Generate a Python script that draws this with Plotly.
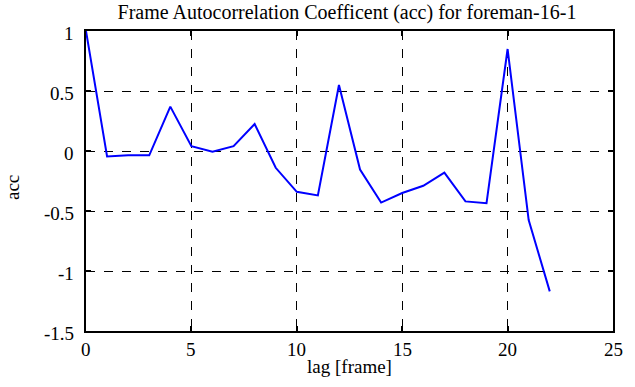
import plotly.graph_objects as go

lags = list(range(23))
acc = [1.0, -0.045, -0.035, -0.036, 0.37, 0.04, -0.005, 0.04, 0.225, -0.14,
       -0.34, -0.37, 0.55, -0.155, -0.43, -0.35, -0.29, -0.18, -0.42, -0.435,
       0.85, -0.575, -1.17]

x_ticks = [0, 5, 10, 15, 20, 25]
x_labels = ["0", "5", "10", "15", "20", "25"]
y_ticks = [-1.5, -1, -0.5, 0, 0.5, 1]
y_labels = ["-1.5", "-1", "-0.5", "0", "0.5", "1"]

font = "Liberation Serif"
tick_font = dict(family=font, size=19, color="black")

fig = go.Figure()
fig.add_trace(go.Scatter(x=lags, y=acc, mode="lines",
                         line=dict(color="#0000ff", width=2)))

axis_common = dict(showline=True, linecolor="black", linewidth=2, mirror="ticks",
                   ticks="inside", ticklen=5, tickwidth=1.5, tickcolor="black",
                   showgrid=True, gridcolor="black", griddash="dash", gridwidth=1,
                   zeroline=False, automargin=False, showticklabels=False)

# tick labels placed on the axes' own value positions (serif font)
annotations = []
for v, t in zip(x_ticks, x_labels):
    annotations.append(dict(text=t, x=v, xref="x", y=0, yref="paper",
                            xanchor="center", yanchor="middle", yshift=-18,
                            showarrow=False, font=tick_font))
for v, t in zip(y_ticks, y_labels):
    annotations.append(dict(text=t, x=0, xref="paper", y=v, yref="y",
                            xanchor="right", yanchor="middle", xshift=-10, yshift=-2,
                            showarrow=False, font=tick_font))
annotations.append(dict(text="acc", textangle=-90, xref="paper", yref="paper",
                        x=-74 / 527, y=(331 - 188) / 300, xanchor="center", yanchor="middle",
                        showarrow=False, font=dict(family=font, size=19, color="black")))

fig.update_layout(
    template="none",
    width=635, height=387,
    margin=dict(l=86, r=22, t=31, b=56, autoexpand=False),
    paper_bgcolor="white", plot_bgcolor="white",
    showlegend=False,
    font=dict(family=font, size=19, color="black"),
    title=dict(text="Frame Autocorrelation Coefficent (acc) for foreman-16-1",
               x=347 / 635, xanchor="center", y=1 - 19 / 387, yanchor="bottom",
               font=dict(family=font, size=20, color="black")),
    xaxis=dict(range=[0, 25], tickvals=x_ticks,
               title=dict(text="lag [frame]", font=dict(family=font, size=19, color="black"), standoff=28),
               **axis_common),
    yaxis=dict(range=[-1.5, 1], tickvals=y_ticks, **axis_common),
    annotations=annotations,
)

fig.write_html("out.html", config={"displayModeBar": False},
               post_script="document.body.style.margin='0';document.body.style.padding='0';")
